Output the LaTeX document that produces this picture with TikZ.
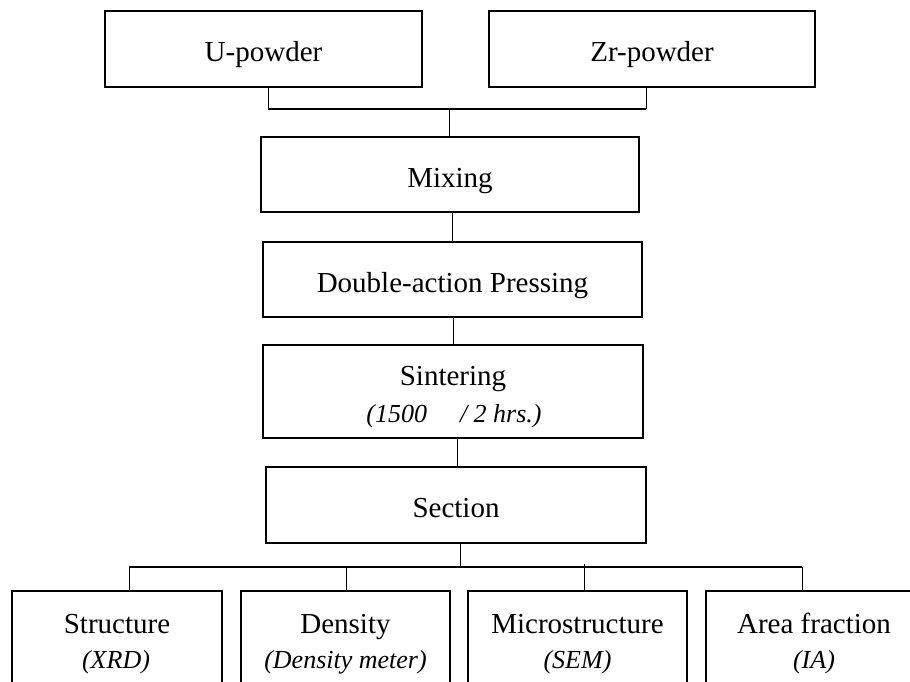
\documentclass[tikz,border=0pt]{standalone}
\usepackage{fontspec}
\setmainfont{Liberation Serif}
\begin{document}
\begin{tikzpicture}[x=1pt,y=-1pt,
  box/.style={draw, line width=1.8pt, inner sep=0pt, align=center,
    text height=25.5pt, text depth=0pt, font=\fontsize{29}{35}\selectfont},
  lbl/.style={inner sep=0pt, anchor=base, font=\fontsize{29}{35}\selectfont},
  sublbl/.style={inner sep=0pt, anchor=base, font=\fontsize{26}{30}\selectfont\itshape},
  conn/.style={line width=1pt},
  bar/.style={line width=2pt}]
\useasboundingbox (0,0) rectangle (910,682);
\clip (0,0) rectangle (910,682);
% single-line boxes
\node[box, minimum width=317pt, minimum height=76pt] (U) at (263.5,49) {U-powder};
\node[box, minimum width=326pt, minimum height=76pt] (Zr) at (652,49) {Zr-powder};
\node[box, minimum width=378pt, minimum height=75pt] (Mix) at (450,174.5) {Mixing};
\node[box, minimum width=379pt, minimum height=75pt] (Dbl) at (452.5,279.5) {Double-action Pressing};
\node[box, minimum width=380pt, minimum height=76pt] (Sec) at (456,505) {Section};
% two-line boxes
\node[box, minimum width=380pt, minimum height=93pt] (Sin) at (453,391.5) {};
\node[lbl] (SinT) at (453,385) {Sintering};
\node[sublbl] (SinS) at (454,422) {(1500\hspace{33pt}/ 2 hrs.)};
\node[box, minimum width=210pt, minimum height=110pt] (B1) at (117,646) {};
\node[box, minimum width=209pt, minimum height=110pt] (B2) at (345.5,646) {};
\node[box, minimum width=219pt, minimum height=110pt] (B3) at (577.5,646) {};
\node[box, minimum width=216pt, minimum height=110pt] (B4) at (814,646) {};
\node[lbl] (B1T) at (117,633) {Structure};
\node[sublbl] (B1S) at (116,668) {(XRD)};
\node[lbl] (B2T) at (345.5,633) {Density};
\node[sublbl] (B2S) at (345.5,668) {(Density meter)};
\node[lbl] (B3T) at (577.5,633) {Microstructure};
\node[sublbl] (B3S) at (577.5,668) {(SEM)};
\node[lbl] (B4T) at (814,633) {Area fraction};
\node[sublbl] (B4S) at (814,668) {(IA)};
% top junction
\coordinate (j1) at (268,109);
\coordinate (j2) at (646,109);
\coordinate (j3) at (449,109);
\draw[conn] (j1 |- U.south) -- (j1);
\draw[conn] (j2 |- Zr.south) -- (j2);
\draw[bar] (j1) -- (j2);
\draw[conn] (j3) -- (j3 |- Mix.north);
% chain
\coordinate (m1) at ([xshift=2pt]Mix.south);
\draw[conn] (m1) -- (m1 |- Dbl.north);
\coordinate (d1) at ([xshift=1pt]Dbl.south);
\draw[conn] (d1) -- (d1 |- Sin.north);
\coordinate (s1) at ([xshift=4pt]Sin.south);
\draw[conn] (s1) -- (s1 |- Sec.north);
% bottom junction
\coordinate (c1) at ([xshift=4pt]Sec.south);
\coordinate (v1) at (129,567);
\coordinate (v2) at (346,567);
\coordinate (v3) at (584,564);
\coordinate (v4) at (802,567);
\draw[conn] (c1) -- (c1 |- v1);
\draw[bar] (v1) -- (v4);
\draw[conn] (v1) -- (v1 |- B1.north);
\draw[conn] (v2) -- (v2 |- B2.north);
\draw[conn] (v3) -- (v3 |- B3.north);
\draw[conn] (v4) -- (v4 |- B4.north);
\end{tikzpicture}
\end{document}
